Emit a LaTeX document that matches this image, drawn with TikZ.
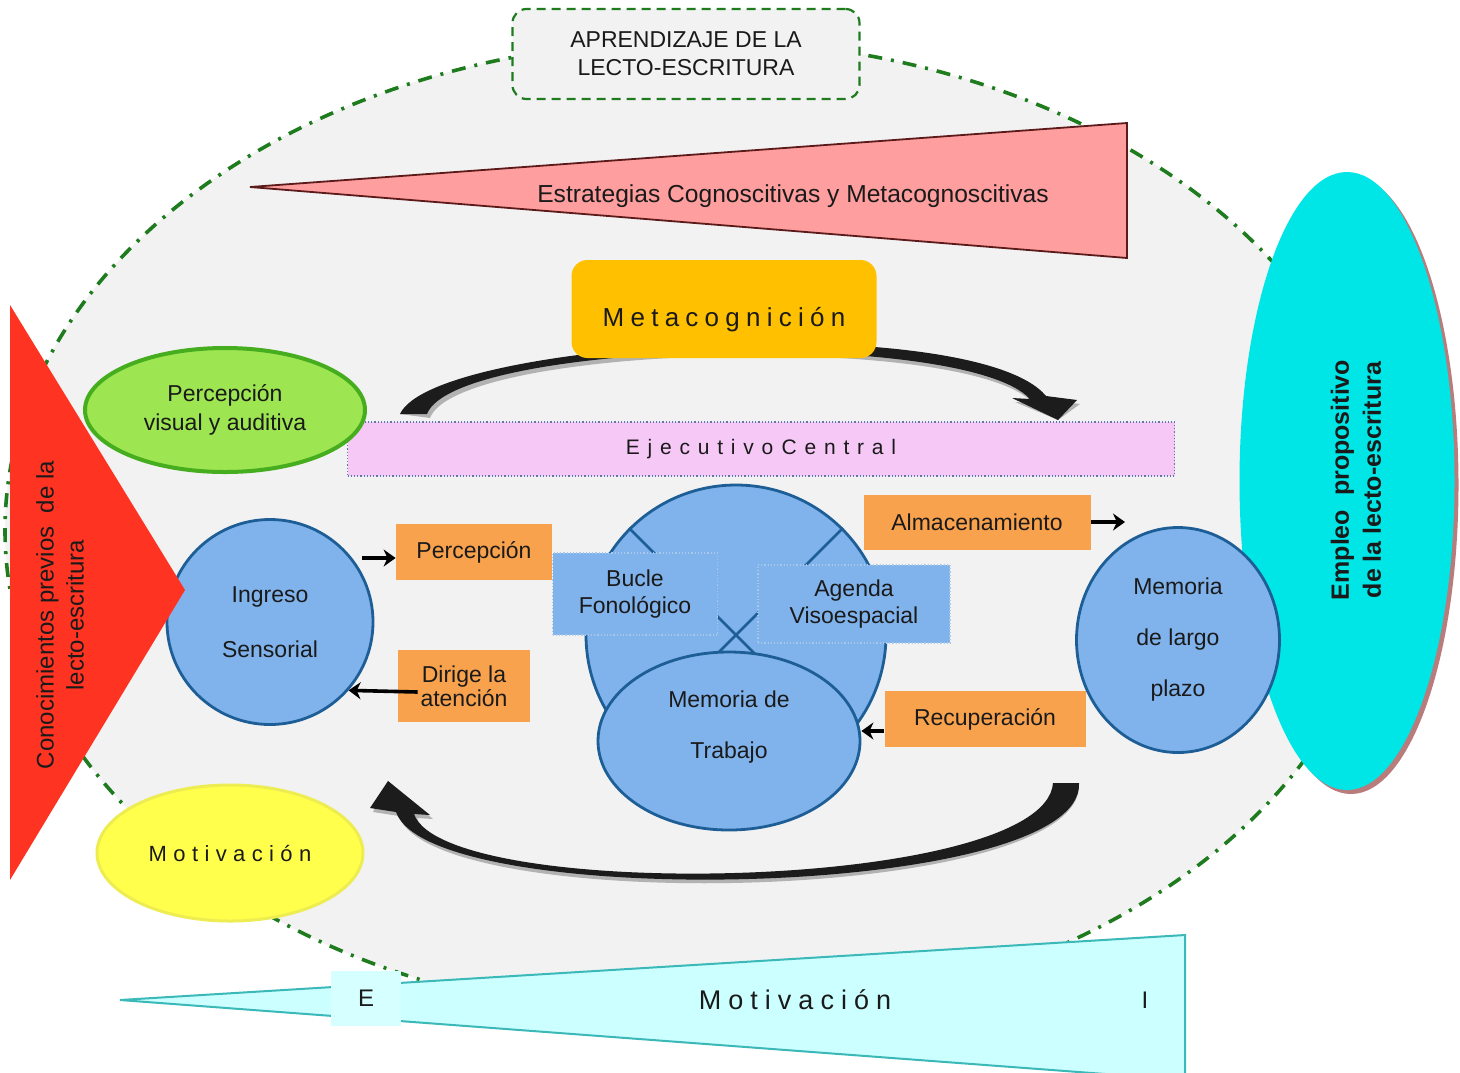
\documentclass[tikz,border=0pt]{standalone}
\usepackage{fontspec}
\setmainfont{Liberation Sans}
\usetikzlibrary{shapes.geometric,arrows.meta}
\definecolor{bggray}{HTML}{F2F2F2}
\definecolor{dgreen}{HTML}{1E7B1E}
\definecolor{pinktri}{HTML}{FF9E9E}
\definecolor{pinkedge}{HTML}{5C1A1A}
\definecolor{metayel}{HTML}{FFC000}
\definecolor{lgreen}{HTML}{9EE552}
\definecolor{lgreenedge}{HTML}{45AD1E}
\definecolor{ejpink}{HTML}{F6C8F6}
\definecolor{ejedge}{HTML}{5A78A8}
\definecolor{redtri}{HTML}{FF3322}
\definecolor{bluefill}{HTML}{80B3EC}
\definecolor{blueedge}{HTML}{1E5E96}
\definecolor{subedge}{HTML}{A9C8EA}
\definecolor{orangebox}{HTML}{F9A24E}
\definecolor{cyanell}{HTML}{00E6E6}
\definecolor{cyanedge}{HTML}{B97C7C}
\definecolor{yel}{HTML}{FFFF4C}
\definecolor{yeledge}{HTML}{EDED52}
\definecolor{lcyan}{HTML}{CCFFFF}
\definecolor{lcyanbox}{HTML}{D6FFFF}
\definecolor{lcyanedge}{HTML}{3BB8B8}
\definecolor{txtc}{HTML}{1A1A1A}
\definecolor{arrowblack}{HTML}{1C1C1C}
\tikzset{
  txt/.style={text=txtc, font=\fontsize{11.5}{13.5}\selectfont, align=center},
  blob/.style={ellipse, fill=bluefill, draw=blueedge, line width=1.4pt, inner sep=0pt, txt},
  obox/.style={rectangle, fill=orangebox, inner sep=0pt, txt},
  subbox/.style={rectangle, fill=bluefill, draw=subedge, densely dotted, line width=0.6pt, inner sep=0pt, txt},
  conn/.style={draw=black, line width=1.8pt, -{Stealth[length=6pt,width=8.5pt]}},
  bigbody/.style={fill=arrowblack},
  bigshadow/.style={fill=black!30},
}
\begin{document}
\begin{tikzpicture}[x=0.5pt,y=-0.5pt]
\useasboundingbox (0,0) rectangle (1460,1072);
\clip (0,0) rectangle (1460,1072);
\fill[white] (0,0) rectangle (1460,1072);

% background region
\draw[fill=bggray, draw=dgreen, line width=1.8pt, dash pattern=on 7pt off 4.5pt on 1.5pt off 4.5pt]
  (695,530) ellipse [x radius=690, y radius=490];

% title
\node[draw=dgreen, line width=1.1pt, dash pattern=on 4.5pt off 3pt, fill=bggray, rounded corners=7pt,
      minimum width=173.5pt, minimum height=45pt, txt, font=\fontsize{11.5}{14}\selectfont]
      (title) at (686,54) {APRENDIZAJE DE LA\\LECTO-ESCRITURA};

% pink triangle
\coordinate (estrTip) at (250,187);
\coordinate (estrTop) at (1127,123);
\coordinate (estrBot) at (1127,258);
\filldraw[fill=pinktri, draw=pinkedge, line width=0.9pt] (estrTip) -- (estrTop) -- (estrBot) -- cycle;
\node[txt, font=\fontsize{12.3}{14}\selectfont] (estr) at (793,196) {Estrategias Cognoscitivas y Metacognoscitivas};

% top curved arrow
\coordinate (topL) at (400,414);
\coordinate (topR) at (1058,420);
\begin{scope}[shift={(3,4)}]
\fill[bigshadow] (topL) .. controls (435,338) and (975,310) .. (1046,396) -- (1077,400) -- (topR) -- (1012,398) -- (1030,399)
   .. controls (965,328) and (455,340) .. (427,414) -- cycle;
\end{scope}
\fill[bigbody] (topL) .. controls (435,338) and (975,310) .. (1046,396) -- (1077,400) -- (topR) -- (1012,398) -- (1030,399)
   .. controls (965,328) and (455,340) .. (427,414) -- cycle;

% Metacognicion
\node[fill=metayel, rounded corners=8pt, minimum width=152.5pt, minimum height=49pt, inner sep=0pt,
      text=txtc, text height=17.5pt, text depth=0pt,
      font=\fontsize{13}{15}\selectfont\addfontfeature{LetterSpace=24}]
      (meta) at (724,309) {Metacognición};

% cyan ellipse
\fill[cyanedge] (1351,485) ellipse [x radius=107.5, y radius=309];
\node[ellipse, fill=cyanell, minimum width=107.5pt, minimum height=309pt, inner sep=0pt] (empleo) at (1347,481) {};
\node[rotate=90, txt, font=\bfseries\fontsize{12.5}{16}\selectfont] (empleoT) at (1356,480)
      {Empleo\ \ propositivo\\de la lecto-escritura};

% Ejecutivo central
\node[rectangle, fill=ejpink, draw=ejedge, densely dotted, line width=0.6pt, minimum width=413.5pt,
      minimum height=27pt, inner sep=0pt, text=txtc,
      font=\fontsize{10.5}{12}\selectfont\addfontfeature{LetterSpace=37}]
      (ejec) at (761,449) {Ejecutivo\hspace{-0.25em} Central};

% percepcion visual
\node[ellipse, fill=lgreen, draw=lgreenedge, line width=2pt, minimum width=140pt, minimum height=62pt,
      inner sep=0pt, txt, font=\fontsize{11.5}{14.5}\selectfont] (pva) at (225,410) {Percepción\\visual y auditiva};

% ingreso sensorial
\node[blob, minimum width=103pt, minimum height=102.5pt, font=\fontsize{11.5}{27.5}\selectfont]
      (ingreso) at (270,622) {Ingreso\\Sensorial};

% red triangle
\fill[redtri] (10,305) -- (185,590) -- (10,880) -- cycle;
\node[rotate=90, txt, font=\fontsize{12}{15}\selectfont] (conoc) at (60,615)
      {Conocimientos previos\ \ de la\\lecto-escritura};

% orange boxes left
\node[obox, minimum width=78pt, minimum height=28pt] (percepcion) at (474,552) {Percepción};
\node[obox, minimum width=66pt, minimum height=36pt, font=\fontsize{11.5}{12}\selectfont] (dirige) at (464,686) {Dirige la\\atención};
\draw[conn] ([xshift=-6pt,yshift=-3pt]ingreso.east |- percepcion.west) -- ([yshift=-3pt]percepcion.west);
\draw[conn] ([xshift=10pt,yshift=-3pt]dirige.west) -- (ingreso.-41);

% working memory
\node[blob, minimum width=150pt, minimum height=150pt] (wm) at (736,635) {};
\draw[blueedge, line width=1.3pt] (wm.135) -- (wm.-45) (wm.45) -- (wm.-135);
\node[subbox, minimum width=82.5pt, minimum height=41pt] (bucle) at (635,594) {Bucle\\Fonológico};
\node[subbox, minimum width=96pt, minimum height=39pt] (agenda) at (854,604) {Agenda\\Visoespacial};
\node[blob, minimum width=131pt, minimum height=89pt,
      label={[txt, font=\fontsize{11.5}{25.5}\selectfont, yshift=7pt]center:{Memoria de\\Trabajo}}]
      (mt) at (729,741) {};

% right boxes
\node[obox, minimum width=113.5pt, minimum height=27.5pt] (almac) at (977,522) {Almacenamiento};
\node[obox, minimum width=100.5pt, minimum height=28pt] (recup) at (985,719) {Recuperación};
\coordinate (almTip) at (1125,522);
\draw[conn] (almac.east) -- (almTip);
\draw[conn] ([yshift=-6pt]recup.west) -- ([yshift=-6pt]recup.west -| mt.east);

% long term memory
\node[blob, minimum width=101.5pt, minimum height=112.5pt, font=\fontsize{11.5}{25.5}\selectfont]
      (ltp) at (1178,640) {Memoria\\de largo\\plazo};

% bottom curved arrow
\coordinate (botR) at (1079,783);
\coordinate (botL) at (388,781);
\begin{scope}[shift={(3,4)}]
\fill[bigshadow] (1053,783) -- (botR) .. controls (1085,900) and (430,912) .. (396,812) -- (370,808) -- (botL)
   -- (430,815) -- (414,814) .. controls (445,903) and (1045,892) .. (1053,783) -- cycle;
\end{scope}
\fill[bigbody] (1053,783) -- (botR) .. controls (1085,900) and (430,912) .. (396,812) -- (370,808) -- (botL)
   -- (430,815) -- (414,814) .. controls (445,903) and (1045,892) .. (1053,783) -- cycle;

% motivation ellipse
\node[ellipse, fill=yel, draw=yeledge, line width=1.5pt, minimum width=133pt, minimum height=68pt, inner sep=0pt,
      text=txtc, font=\fontsize{11}{13}\selectfont\addfontfeature{LetterSpace=29}]
      (motiv) at (230,853) {Motivación};

% bottom cyan triangle
\filldraw[fill=lcyan, draw=lcyanedge, line width=1pt] (120,1000) -- (1185,935) -- (1185,1080) -- cycle;
\node[fill=lcyanbox, minimum width=35pt, minimum height=27.5pt, inner sep=0pt, txt, font=\fontsize{12}{14}\selectfont]
      (ebox) at (366,998) {E};
\node[text=txtc, font=\fontsize{13.5}{15}\selectfont\addfontfeature{LetterSpace=26}] (motivB) at (795,1000) {Motivación};
\node[txt, font=\fontsize{12}{14}\selectfont] (ibox) at (1145,1000) {I};
\end{tikzpicture}
\end{document}
